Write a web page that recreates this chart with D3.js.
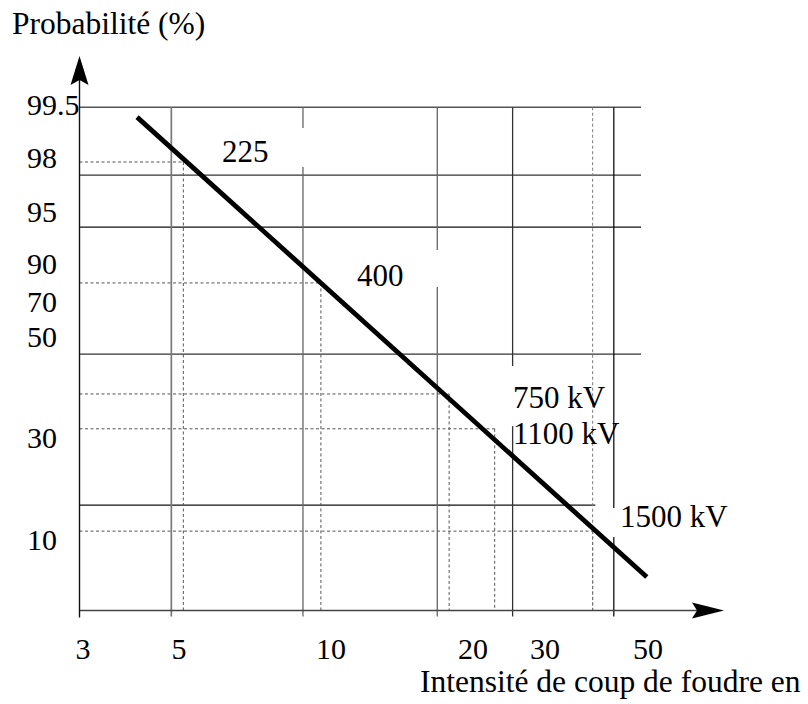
<!DOCTYPE html>
<html><head><meta charset="utf-8">
<script src="https://cdn.jsdelivr.net/npm/d3@7"></script>
<style>
body{margin:0;background:#fff}
svg{display:block}
text{font-family:"Liberation Serif","Times New Roman",serif;fill:#000}
</style>
</head><body>
<svg id="c" width="808" height="704"></svg>
<script>
// ---------- data ----------
const xTicks = [3, 5, 10, 20, 30, 50];
const yTicks = [10, 30, 50, 70, 90, 95, 98, 99.5];
const xGridSolid = [4.8, 8.8, 16.8, 25, 42.2];
const yGridSolid = [99.72, 97.6, 94.5, 48.6, 18.8];
const yGridSolidEnd = [48.3, 48.3, 48.3, 48.3, 38.5];
const xGridDashed = [38];
const voltages = ["225", "400", "750 kV", "1100 kV", "1500 kV"];
const readCurrent = [5.1, 9.55, 17.8, 22.6, 38];
const readProb = [98.17, 85.3, 40.7, 33.8, 13.7];
const curveCurrent = [4.0, 49.7];
const curveProb = [99.44, 4.7];
const labelCurrent = [6.08, 11.35, 25.05, 25.05, 43.5];
const labelProb = [98.17, 83.7, 37.9, 30.8, 14.5];
const gridTop = 99.72;

// ---------- layout ----------
const originX = 79.5, originY = 610.5;
const xTickPx = [83, 179, 331, 473, 545, 648];
const yTickPx = [550, 448, 347, 312, 274, 222, 168, 115];
const labelBox = [[-12,-34,88,5], [-12,-36,85,1], [-7,-42,77,18], null, [-9,-19,115,10]];
const vGridColor = ["#7a7a7a", "#666", "#666", "#333", "#111"];
const hGridColor = ["#555", "#333", "#111", "#333", "#111"];

const svg = d3.select("#c");

const xs = d3.scaleLinear().domain(xTicks.map(Math.log10)).range(xTickPx);
const x = v => xs(Math.log10(v));
const y = d3.scaleLinear().domain(yTicks).range(yTickPx);

const g = svg.append("g");

// solid horizontal grid
g.selectAll("line.hg").data(yGridSolid).join("line")
  .attr("x1", originX).attr("x2", (d,i) => x(yGridSolidEnd[i]))
  .attr("y1", d => y(d)).attr("y2", d => y(d))
  .attr("stroke", (d,i) => hGridColor[i]).attr("stroke-width", 1.3);

// solid vertical grid
g.selectAll("line.vg").data(xGridSolid).join("line")
  .attr("x1", d => x(d)).attr("x2", d => x(d))
  .attr("y1", y(gridTop)).attr("y2", originY + 6)
  .attr("stroke", (d,i) => vGridColor[i]).attr("stroke-width", (d,i) => i === 0 ? 1.7 : 1.3);

// dashed reading lines
const readings = voltages.map((v,i) => ({c: readCurrent[i], p: readProb[i]}));
g.selectAll("line.rh").data(readings).join("line")
  .attr("x1", originX).attr("x2", d => x(d.c))
  .attr("y1", d => y(d.p)).attr("y2", d => y(d.p))
  .attr("stroke", "#555").attr("stroke-width", 1).attr("stroke-dasharray", "3,2.5");
g.selectAll("line.rv").data(readings).join("line")
  .attr("x1", d => x(d.c)).attr("x2", d => x(d.c))
  .attr("y1", d => y(d.p)).attr("y2", originY)
  .attr("stroke", "#555").attr("stroke-width", 1).attr("stroke-dasharray", "3,2.5");
g.selectAll("line.dv").data(xGridDashed).join("line")
  .attr("x1", d => x(d)).attr("x2", d => x(d))
  .attr("y1", y(gridTop)).attr("y2", originY)
  .attr("stroke", "#777").attr("stroke-width", 1).attr("stroke-dasharray", "3,2.5");

// axes
g.append("line").attr("x1", originX).attr("x2", 700).attr("y1", originY).attr("y2", originY)
  .attr("stroke", "#444").attr("stroke-width", 1.5);
g.append("line").attr("x1", originX).attr("x2", originX).attr("y1", originY + 7).attr("y2", 80)
  .attr("stroke", "#111").attr("stroke-width", 1.4);
g.append("path").attr("d", `M${originX},56 L${originX+9},85 L${originX},80 L${originX-9},85 Z`).attr("fill", "#000");
g.append("path").attr("d", `M724,${originY} L692,${originY-8} L697,${originY} L692,${originY+8} Z`).attr("fill", "#000");

// label masks
voltages.forEach((v,i) => {
  const b = labelBox[i];
  if (!b) return;
  const ax = x(labelCurrent[i]), ay = y(labelProb[i]);
  g.append("rect").attr("x", ax + b[0]).attr("y", ay + b[1])
    .attr("width", b[2] - b[0]).attr("height", b[3] - b[1]).attr("fill", "#fff");
});

// probability curve
const line = d3.line().x(d => x(d[0])).y(d => y(d[1]));
g.append("path").datum(curveCurrent.map((c,i) => [c, curveProb[i]]))
  .attr("d", line).attr("fill", "none").attr("stroke", "#000").attr("stroke-width", 4.8);

// annotation labels
g.selectAll("text.lab").data(voltages).join("text")
  .attr("x", (d,i) => x(labelCurrent[i])).attr("y", (d,i) => y(labelProb[i]))
  .attr("font-size", 31).text(d => d);

// tick labels
g.selectAll("text.xt").data(xTicks).join("text")
  .attr("x", d => x(d)).attr("y", 659).attr("text-anchor", "middle")
  .attr("font-size", 30).text(d => d);
g.selectAll("text.yt").data(yTicks).join("text")
  .attr("x", 27).attr("y", d => y(d))
  .attr("font-size", 30).text(d => d);

// titles
g.append("text").attr("x", 12).attr("y", 34).attr("font-size", 31.5).text("Probabilité (%)");
g.append("text").attr("x", 420).attr("y", 692).attr("font-size", 31.5).text("Intensité de coup de foudre en");
</script>
</body></html>
